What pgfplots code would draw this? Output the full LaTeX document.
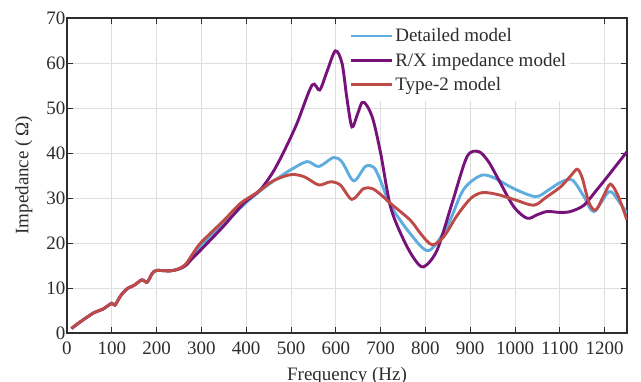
\documentclass[border=0pt]{standalone}
\usepackage{pgfplots}
\pgfplotsset{compat=1.18}
\usepackage{fontspec}
\setmainfont{Liberation Serif}
\definecolor{cblue}{RGB}{95,172,222}
\definecolor{cpurple}{RGB}{118,18,122}
\definecolor{cred}{RGB}{190,75,72}
\definecolor{cgrid}{RGB}{222,222,222}
\definecolor{ctext}{RGB}{45,45,45}
\begin{document}
\begin{tikzpicture}[font=\fontsize{19bp}{22bp}\selectfont]
\begin{axis}[
  scale only axis,
  width=560bp, height=315bp,
  xmin=0, xmax=1250, ymin=0, ymax=70,
  xtick={0,100,...,1200},
  ytick={0,10,...,70},
  grid=major,
  major grid style={cgrid, line width=0.9bp},
  axis line style={ctext, line width=1.1bp},
  major tick style={ctext, line width=1bp},
  major tick length=6bp,
  tick align=inside,
  /pgf/number format/assume math mode=true,
  /pgf/number format/1000 sep={},
  tick label style={font=\fontsize{19bp}{22bp}\selectfont, text=ctext},
  xticklabel style={yshift=-5bp},
  yticklabel style={xshift=2bp},
  xlabel={Frequency (Hz)},
  ylabel={Impedance (\,Ω)},
  label style={font=\fontsize{19bp}{22bp}\selectfont, text=ctext},
  xlabel style={at={(axis description cs:0.5,0)}, anchor=base, yshift=-47bp},
  ylabel style={at={(axis description cs:-0.077,0.5)}, anchor=center, rotate=0},
  legend style={at={(axis description cs:0.503,0.997)}, anchor=north west,
    draw=none, fill=white, font=\fontsize{19bp}{22bp}\selectfont, text=ctext,
    row sep=6.5bp, inner xsep=1bp, inner ysep=8bp, nodes={inner sep=1.5bp}},
  legend cell align=left,
  legend image code/.code={\draw[#1] (0bp,0bp) -- (41bp,0bp);},
  every axis plot/.append style={line width=2.9bp, smooth},
]
\addplot[cblue] coordinates {
(10,1.0) (30,2.5) (60,4.5) (80,5.3) (100,6.6) (107,6.2) (120,8.3) (135,9.9)
(150,10.6) (167,11.8) (179,11.3) (190,13.2) (200,13.9) (230,13.8) (250,14.3)
(265,15.2) (280,17) (300,19.4) (350,24.2) (400,29.0) (424,31) (450,33)
(475,34.7) (500,36.3) (536,38.1) (562,37.0) (595,39.0) (614,38.0) (640,33.8)
(666,37.0) (685,36.8) (700,33.8) (722,28.4) (766,22.1) (807,18.3) (848,23.6)
(880,31) (900,33.5) (927,35.1) (953,34.5) (997,32.1) (1046,30.3) (1075,31.8)
(1102,33.5) (1128,34) (1154,30.3) (1176,27) (1210,31.4) (1230,29.5) (1250,26.6)
};
\addlegendentry{Detailed model}
\addplot[cpurple] coordinates {
(10,1.0) (30,2.5) (60,4.5) (80,5.3) (100,6.6) (107,6.2) (120,8.3) (135,9.9)
(150,10.6) (167,11.8) (179,11.3) (190,13.2) (200,13.9) (230,13.8) (250,14.2)
(265,15.0) (280,16.6) (300,18.6) (350,23.8) (394,28.8) (431,31.8) (460,35.8)
(485,40.5) (513,46.5) (547,55.1) (564,54.0) (580,58) (599,62.7) (614,59.9)
(625,52) (636,45.8) (648,48.5) (661,51.4) (681,48.1) (700,40) (722,28.1)
(750,21) (775,16.5) (796,14.7) (826,18.4) (860,29) (893,39.2) (919,40.3)
(940,38.2) (960,34.7) (997,28.1) (1027,25.5) (1050,26.3) (1072,27) (1100,26.8)
(1124,27) (1154,28.4) (1180,31.5) (1206,34.7) (1250,40.3)
};
\addlegendentry{R/X impedance model}
\addplot[cred] coordinates {
(10,1.0) (30,2.5) (60,4.5) (80,5.3) (100,6.6) (107,6.2) (120,8.3) (135,9.9)
(150,10.6) (167,11.8) (179,11.3) (190,13.2) (200,13.9) (230,13.8) (250,14.3)
(265,15.3) (282,17.8) (300,20.2) (350,25.0) (387,28.8) (424,31.2)
(460,33.8) (500,35.2) (530,34.7) (562,32.9) (588,33.6) (610,32.9) (636,29.7)
(662,32.1) (681,32.1) (700,30.8) (722,28.8) (766,25.1) (790,22) (815,19.6)
(841,21.4) (870,26) (901,29.9) (927,31.2) (960,30.8) (1000,29.6) (1042,28.4)
(1070,30.2) (1102,32.5) (1125,35) (1139,36.4) (1150,34.5) (1165,29) (1180,27.3)
(1198,30.5) (1213,33.1) (1230,30.5) (1250,25.1)
};
\addlegendentry{Type-2 model}
\end{axis}
\pgfresetboundingbox
\useasboundingbox (-67bp,-49bp) rectangle (574bp,333bp);
\end{tikzpicture}
\end{document}
